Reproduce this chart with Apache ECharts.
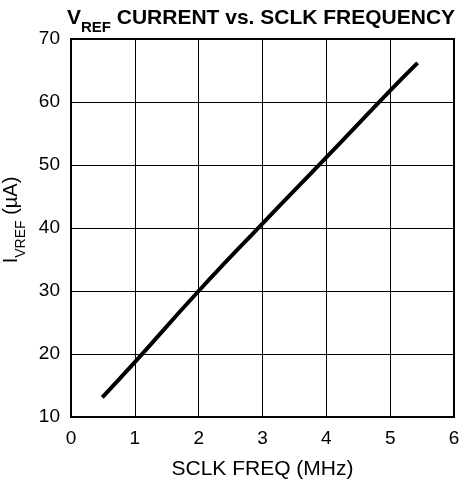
<!DOCTYPE html>
<html><head><meta charset="utf-8">
<script src="https://cdn.jsdelivr.net/npm/echarts@6/dist/echarts.min.js"></script>
<style>html,body{margin:0;padding:0;background:#fff}#c{width:462px;height:483px}</style>
</head><body><div id="c"></div>
<script>
const freqMHz = [0.49, 1, 2, 3, 4, 5, 5.43];
const currentUA = [13.1, 18.7, 30.0, 40.7, 51.2, 61.8, 66.2];
const xTicks = [0, 1, 2, 3, 4, 5, 6];
const yTicks = [10, 20, 30, 40, 50, 60, 70];

const font = 'Liberation Sans, Arial, sans-serif';
const chart = echarts.init(document.getElementById('c'));
chart.setOption({
  animation: false,
  title: {
    text: '{v|V}{s|REF}{v| CURRENT vs. SCLK FREQUENCY}',
    left: 256, top: 2, textAlign: 'center',
    textStyle: {
      rich: {
        v: {fontFamily: font, fontSize: 21, fontWeight: 'bold', color: '#000', verticalAlign: 'bottom', lineHeight: 22},
        s: {fontFamily: font, fontSize: 15, fontWeight: 'bold', color: '#000', verticalAlign: 'bottom', lineHeight: 16, padding: [0,0,-6,0]}
      }
    }
  },
  grid: {left: 71, right: 8, top: 39, bottom: 66, containLabel: false, outerBoundsMode: 'none'},
  xAxis: {
    type: 'value', min: 0, max: 6, interval: 1,
    name: 'SCLK FREQ (MHz)', nameLocation: 'middle', nameGap: 42,
    nameTextStyle: {fontFamily: font, fontSize: 21, color: '#000'},
    axisLine: {show: true, lineStyle: {color: '#000', width: 2}},
    axisTick: {show: false},
    axisLabel: {fontFamily: font, fontSize: 19, color: '#000', margin: 12,
      formatter: v => xTicks.includes(v) ? String(v) : ''},
    splitLine: {show: true, lineStyle: {color: '#000', width: 1}}
  },
  yAxis: {
    type: 'value', min: 10, max: 70, interval: 10,
    name: '{v|I}{s|VREF}{v| (µA)}', nameLocation: 'middle', nameGap: 48, nameRotate: 90,
    nameTextStyle: {
      padding: [0, 0, 0, 16],
      rich: {
        v: {fontFamily: font, fontSize: 20, color: '#000', verticalAlign: 'bottom', lineHeight: 22},
        s: {fontFamily: font, fontSize: 14, color: '#000', verticalAlign: 'bottom', lineHeight: 16, padding: [0,0,-6,0]}
      }
    },
    axisLine: {show: true, lineStyle: {color: '#000', width: 2}},
    axisTick: {show: false},
    axisLabel: {fontFamily: font, fontSize: 19, color: '#000', margin: 11,
      formatter: v => yTicks.includes(v) ? String(v) : ''},
    splitLine: {show: true, lineStyle: {color: '#000', width: 1}}
  },
  series: [{
    type: 'line', data: freqMHz.map((x, i) => [x, currentUA[i]]),
    showSymbol: false, smooth: true,
    lineStyle: {color: '#000', width: 4}
  }],
  graphic: [{
    type: 'rect', shape: {x: 71, y: 39, width: 383, height: 378},
    style: {fill: 'none', stroke: '#000', lineWidth: 2}, z: 10
  }]
});
</script></body></html>
